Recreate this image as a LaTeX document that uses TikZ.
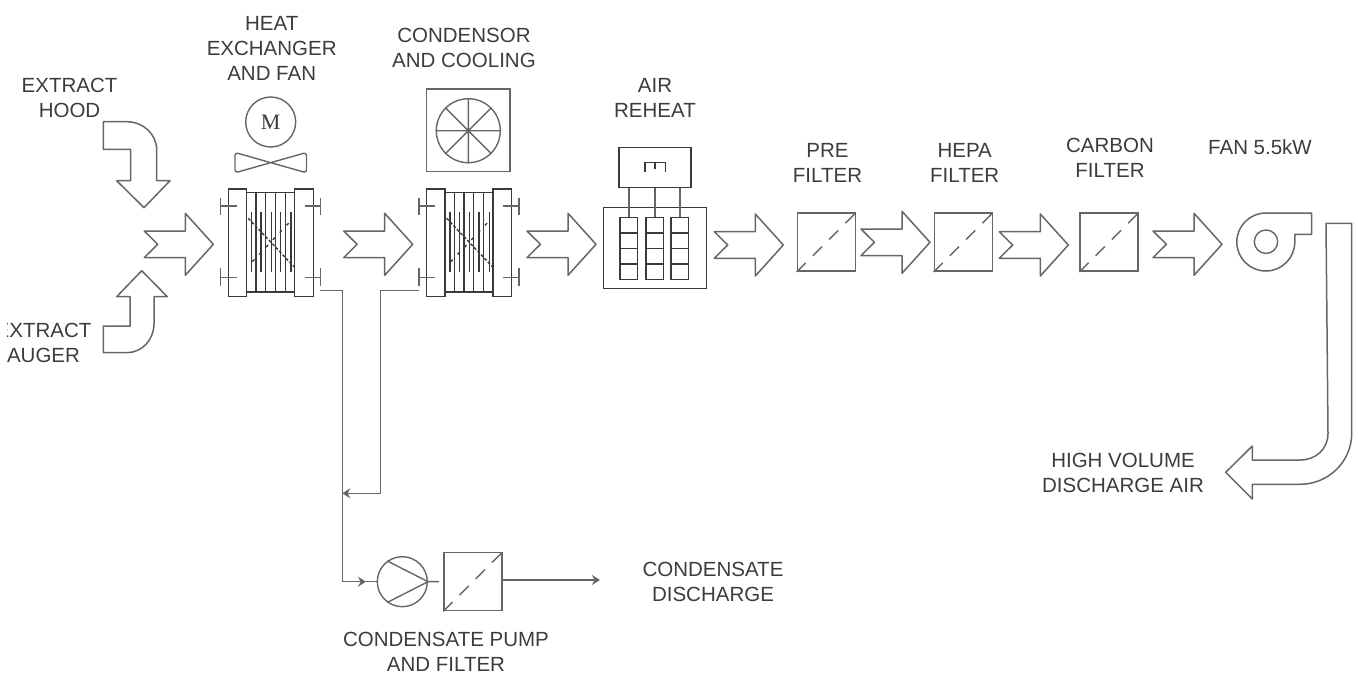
\documentclass[tikz,border=0pt]{standalone}
\usepackage{fontspec}
\setmainfont{Liberation Sans}
\newfontfamily\motorfont{Liberation Serif}
\usepackage{xcolor}
\usetikzlibrary{arrows.meta, positioning, calc}
\definecolor{ductgray}{HTML}{666666}
\definecolor{linedark}{HTML}{3A3A3A}
\definecolor{labelgray}{HTML}{3C3C3C}
\tikzset{
  lbl/.style={font=\fontsize{20.5}{25}\selectfont, text=labelgray, align=center, inner sep=0pt},
  duct/.style={draw=ductgray, line width=1.5pt, line join=round},
  plant/.style={draw=linedark, line width=1.4pt},
  pipe/.style={draw=ductgray, line width=1.4pt},
  pipearr/.style={pipe, -{Stealth[length=8pt, width=10pt]}},
  filtersq/.style={rectangle, draw=ductgray, line width=1.6pt, minimum size=58pt, inner sep=0pt},
  roundsym/.style={circle, draw=ductgray, line width=1.4pt, inner sep=0pt, minimum size=#1},
  airarrow/.pic={
    \draw[duct] (-69,-13.3) -- (-28,-13.3) -- (-28,-31) -- (0,0) -- (-28,31)
      -- (-28,13.3) -- (-69,13.3) -- (-55.6,0) -- cycle;
  },
  filterbox/.pic={
    \node[filtersq] (-box) at (0,0) {};
    \draw[pipe, dash pattern=on 13pt off 10pt] (-box.south west) -- (-box.north east);
  },
  heatcol/.pic={
    \node[rectangle, plant, minimum width=17.7pt, minimum height=61.6pt, inner sep=0pt] (-box) at (0,0) {};
    \draw[plant] (-8.85,-15.4) -- (8.85,-15.4) (-8.85,0) -- (8.85,0) (-8.85,15.4) -- (8.85,15.4);
  },
  exchanger/.pic={
    \node[rectangle, plant, minimum width=18.4pt, minimum height=107.4pt, inner sep=0pt] (-left) at (-33.2,0) {};
    \node[rectangle, plant, minimum width=18.6pt, minimum height=107.4pt, inner sep=0pt] (-right) at (33.3,0) {};
    \draw[plant] (-24,-50.4) -- (24,-50.4) (-24,49.3) -- (24,49.3);
    \draw[plant] (-14.7,-50.4) -- (-14.7,49.3) (-5,-50.4) -- (-5,49.3)
      (4.6,-50.4) -- (4.6,49.3) (14.6,-50.4) -- (14.6,49.3);
    \draw[plant] (-19,-30.4) -- (-19,29) (-9.7,-30.4) -- (-9.7,29) (0.6,-30.4) -- (0.6,29)
      (10,-30.4) -- (10,29) (20.3,-30.4) -- (20.3,29);
    \draw[plant, densely dashed] (-22.4,-24.4) -- (23.3,24);
    \draw[plant, dash pattern=on 3pt off 7pt] (-18.4,19) -- (19.3,-21);
    \draw[pipe] (-50,-45) -- (-50,-27.7) (-50,-36.7) -- (-34,-36.7)
      (-50,25.3) -- (-50,43) (-50,34.6) -- (-34,34.6);
    \draw[pipe] (50,-45) -- (50,-27.7) (50,-36.7) -- (34.3,-36.7)
      (50,25.3) -- (50,43) (50,34.6) -- (34.3,34.6);
    \coordinate (-drainl) at (-50,48);
    \coordinate (-drainr) at (49.5,48);
  },
}
\begin{document}
\begin{tikzpicture}[x=1pt, y=-1pt]
  \useasboundingbox (0,0) rectangle (1358,673);

  \node[lbl] (hoodlbl) at (69.5,98) {EXTRACT\\HOOD};
  \node[lbl] (augerlbl) at (43.5,343) {EXTRACT\\AUGER};
  \fill[white] (0,320) rectangle (6.5,341);
  \node[lbl] (hxalbl) at (271.7,48) {HEAT\\EXCHANGER\\AND FAN};
  \node[lbl] (hxblbl) at (464,48) {CONDENSOR\\AND COOLING};
  \node[lbl] (reheatlbl) at (655,98) {AIR\\REHEAT};
  \node[lbl] (prelbl) at (827.5,163) {PRE\\FILTER};
  \node[lbl] (hepalbl) at (964.7,163) {HEPA\\FILTER};
  \node[lbl] (carbonlbl) at (1110,158) {CARBON\\FILTER};
  \node[lbl] (fanlbl) at (1260,147) {FAN 5.5kW};
  \node[lbl] (dischlbl) at (1123,473) {HIGH VOLUME\\DISCHARGE AIR};
  \node[lbl] (condlbl) at (713,582) {CONDENSATE\\DISCHARGE};
  \node[lbl] (pumplbl) at (446,652) {CONDENSATE PUMP\\AND FILTER};

  \draw[duct] (103.3,121.7) -- (126.7,121.7) .. controls (143,121.7) and (156.7,134) .. (156.7,150)
    -- (156.7,180.7) -- (170,180.7) -- (144,207.7) -- (116.7,180.7) -- (130.7,180.7)
    -- (130.7,149.3) -- (103.3,149.3) -- cycle;
  \draw[duct] (103.3,326) -- (130,326) -- (130,296.7) -- (116.7,296.7) -- (141.7,270.7)
    -- (167.3,296.7) -- (154,296.7) -- (154,323.3) .. controls (154,340) and (142,352.7) .. (126.7,352.7)
    -- (103.3,352.7) -- cycle;

  \pic at (213.3,244.3) {airarrow};
  \pic at (412.7,244.3) {airarrow};
  \pic at (596,244.3) {airarrow};
  \pic at (783.3,245) {airarrow};
  \pic at (930,242.3) {airarrow};
  \pic at (1068.3,245) {airarrow};
  \pic at (1222,244.3) {airarrow};

  \pic (hxa) at (270.7,242.7) {exchanger};
  \pic (hxb) at (469.1,242.7) {exchanger};

  \node[roundsym=50pt] (motor) at (270.7,122) {\motorfont\fontsize{22}{22}\selectfont\textcolor{linedark}{M}};
  \draw[pipe, rounded corners=3pt] (235,152.5) -- (306.5,172.8) -- (306.5,152.5) -- (235,172.8) -- cycle;

  \node[rectangle, draw=ductgray, line width=1.4pt, minimum width=83.3pt, minimum height=82.7pt, inner sep=0pt]
    (coolbox) at (468.3,130.3) {};
  \node[roundsym=64pt] (coolfan) at (468.3,130.7) {};
  \draw[pipe] (coolfan.north) -- (coolfan.south) (coolfan.west) -- (coolfan.east)
    (coolfan.45) -- (coolfan.225) (coolfan.135) -- (coolfan.315);

  \node[rectangle, plant, minimum width=72pt, minimum height=40.4pt, inner sep=0pt] (heatctl) at (655,167.5) {};
  \node[rectangle, plant, minimum width=103.4pt, minimum height=81pt, inner sep=0pt] (heatbox) at (655,247.8) {};
  \draw[plant] (645,172.3) -- (645,162.3) -- (665.7,162.3) -- (665.7,172.3) (655,162.3) -- (655,169);
  \pic (cola) at (628.9,248.5) {heatcol};
  \pic (colb) at (654.9,248.5) {heatcol};
  \pic (colc) at (679.9,248.5) {heatcol};
  \draw[pipe] (heatctl.south -| cola-box.north) -- (cola-box.north);
  \draw[pipe] (heatctl.south -| colb-box.north) -- (colb-box.north);
  \draw[pipe] (heatctl.south -| colc-box.north) -- (colc-box.north);

  \pic (prefilt) at (826.3,242.2) {filterbox};
  \pic (hepafilt) at (963.3,242.2) {filterbox};
  \pic (carbonfilt) at (1109.2,242.2) {filterbox};

  \node[roundsym=23.4pt] (fancore) at (1266,241.7) {};
  \draw[duct] (1311.7,213) -- (1265.8,213) arc[start angle=-90, delta angle=-270, radius=29]
    -- (1294.8,234.3) -- (1311.7,234.3) -- cycle;

  \draw[duct] (1326,223.3) -- (1351.7,223.3) -- (1351.7,433.3)
    .. controls (1351.7,462) and (1328,484.3) .. (1300,484.3)
    -- (1252.3,484.3) -- (1252.3,499) -- (1225.7,472.3) -- (1252.3,446) -- (1252.3,460) -- (1300,460)
    .. controls (1316,460) and (1328,449) .. (1328,433.3) -- cycle;

  \node[roundsym=50pt] (pump) at (402.3,581.7) {};
  \draw[pipe] (pump.east) -- (pump.126) (pump.east) -- (pump.-126);
  \pic (pumpfilt) at (473,581.5) {filterbox};

  \coordinate (bendb) at (380.7,290.7);
  \coordinate (junc) at (342.3,493.3);
  \coordinate (pipecorner) at (342.3,581.7);
  \coordinate (pumpin) at (366,581.7);
  \coordinate (condout) at (600,580);

  \draw[pipearr] (hxa-drainr) -| (pipecorner) -- (pumpin);
  \draw[pipe] (pumpin) -- (pump.west);
  \draw[pipearr] (hxb-drainl) -- (bendb) |- (junc);
  \draw[pipe, shorten >=4pt] (pump.east) -- (pumpfilt-box.west);
  \draw[pipearr] (pumpfilt-box.east |- condout) -- (condout);
\end{tikzpicture}
\end{document}
